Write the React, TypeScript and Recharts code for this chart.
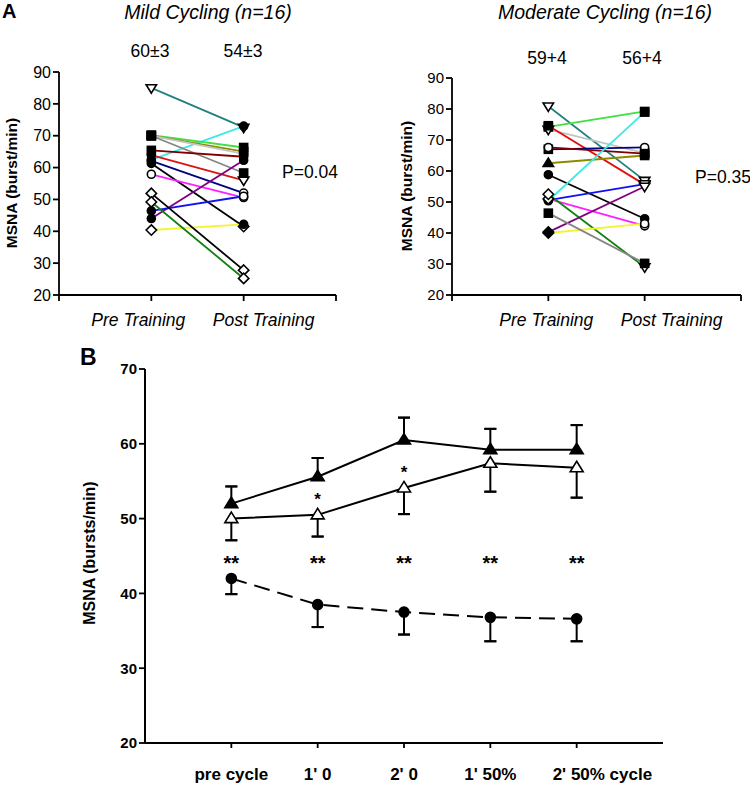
import React from 'react';
import { LineChart, Line, XAxis, YAxis, ErrorBar } from 'recharts';

const FONT = '"Liberation Sans", Arial, Helvetica, sans-serif';

// ---- Panel A: individual subjects, MSNA (burst/min) ----
const trainingLabels = ['Pre Training', 'Post Training'];
const panelATicks = [20, 30, 40, 50, 60, 70, 80, 90];

const mildColors = ['#208080', '#40e8e8', '#40e040', '#8b8b00', '#c4c4c4', '#858585', '#800000', '#e01010',
  '#000080', '#000000', '#ff20ff', '#800080', '#1010f0', '#f4f430', '#000000', '#108010'];
const mildPre = [85, 62.4, 70.2, 70, 70, 70, 65.4, 63.9, 62.1, 61.3, 57.9, 44, 46.4, 40.4, 51.9, 49.2];
const mildPost = [72.6, 73, 66.3, 65, 64.3, 58.3, 63.4, 56, 52, 41.5, 50.6, 62.3, 51, 42.2, 27.8, 25.2];
const mildPreMark = ['triDownOpen', 'circleOpen', 'square', 'square', 'square', 'square', 'square', 'circle',
  'circle', 'circle', 'circleOpen', 'circle', 'circle', 'diamondOpen', 'diamondOpen', 'diamondOpen'];
const mildPostMark = ['triDownOpen', 'circle', 'square', 'square', 'circle', 'square', 'circle', 'triDownOpen',
  'circleOpen', 'diamondOpen', 'circleOpen', 'circle', 'circleOpen', 'circle', 'diamondOpen', 'diamondOpen'];

const modColors = ['#208080', '#40e040', '#c4c4c4', '#e01010', '#000080', '#800000', '#8b8b00', '#000000',
  '#1010f0', '#40e8e8', '#ff20ff', '#108010', '#800080', '#f4f430', '#858585'];
const modPre = [80.9, 74.2, 73.4, 74.6, 67.0, 67.6, 62.5, 58.8, 50.6, 50.4, 51.0, 52.5, 40.3, 40.0, 46.4];
const modPost = [56.9, 79.2, 65.8, 55.6, 67.6, 65.6, 65.0, 44.6, 55.8, 79.0, 42.3, 29.0, 55.0, 43.0, 30.2];
const modPreMark = ['triDownOpen', 'square', 'triDownOpen', 'square', 'square', 'circleOpen', 'tri', 'circle',
  'circle', 'circle', 'diamondOpen', 'diamondOpen', 'diamond', 'diamond', 'square'];
const modPostMark = ['triDownOpen', 'square', 'square', 'triDownOpen', 'circleOpen', 'square', 'square', 'circle',
  'triDownOpen', 'square', 'circleOpen', 'triDownOpen', 'triDownOpen', 'circleOpen', 'square'];

// ---- Panel B: group means, MSNA (bursts/min) ----
const phaseLabels = ['pre cycle', "1' 0", "2' 0", "1' 50%", "2' 50% cycle"];
const panelBTicks = [20, 30, 40, 50, 60, 70];
const filledMean = [52.0, 55.6, 60.5, 59.2, 59.2];
const filledSE = [2.3, 2.5, 3.0, 2.8, 3.3];
const openMean = [50.0, 50.5, 54.1, 57.4, 56.8];
const openSE = [2.9, 2.9, 3.5, 3.8, 4.0];
const circleMean = [42.0, 38.5, 37.5, 36.8, 36.6];
const circleSE = [2.1, 3.0, 3.0, 3.2, 3.0];
const openStar = [false, true, true, false, false];
const doubleStar = [true, true, true, true, true];
const doubleStarLevel = 44.4;

function Marker({ cx, cy, kind, s }: { cx: number; cy: number; kind: string; s: number }) {
  const open = kind.endsWith('Open');
  const base = open ? kind.slice(0, -4) : kind;
  const p = { fill: open ? '#fff' : '#000', stroke: '#000', strokeWidth: 1.6 };
  const d = s * 1.3;
  if (base === 'square') return <rect x={cx - s} y={cy - s} width={s * 2} height={s * 2} {...p} />;
  if (base === 'circle') return <circle cx={cx} cy={cy} r={s} {...p} />;
  if (base === 'diamond')
    return <polygon points={`${cx},${cy - d} ${cx + d},${cy} ${cx},${cy + d} ${cx - d},${cy}`} {...p} />;
  if (base === 'tri')
    return <polygon points={`${cx},${cy - d} ${cx + d},${cy + s * 0.8} ${cx - d},${cy + s * 0.8}`} {...p} />;
  return <polygon points={`${cx},${cy + d} ${cx + d},${cy - s * 0.8} ${cx - d},${cy - s * 0.8}`} {...p} />;
}

const TrainingTick = (props: any) => {
  const { x, y, payload, shift } = props;
  const label = trainingLabels[payload.value - 1];
  if (!label) return <g />;
  return (
    <text x={x + shift[payload.value - 1]} y={y} dy={23} textAnchor="middle" fontStyle="italic"
      fontSize={17.5} fontFamily={FONT} fill="#000">{label}</text>
  );
};

const PhaseTick = (props: any) => {
  const { x, y, payload } = props;
  const label = phaseLabels[payload.value - 1];
  if (!label) return <g />;
  const last = payload.value === phaseLabels.length;
  return (
    <text x={last ? x - 24 : x} y={y} dy={30} textAnchor={last ? 'start' : 'middle'} fontWeight="bold"
      fontSize={17} fontFamily={FONT} fill="#000">{label}</text>
  );
};

const axisStroke = { stroke: '#000', strokeWidth: 1.8 };

function SubjectPanel(props: any) {
  const { pre, post, colors, preMark, postMark, width, margin, shift, tickFont } = props;
  const rows = [pre, post].map((vals: number[], k: number) => {
    const row: Record<string, number> = { x: k + 1 };
    vals.forEach((v, i) => (row[`s${i}`] = v));
    return row;
  });
  return (
    <LineChart width={width} height={340} data={rows} margin={margin}>
      <XAxis type="number" dataKey="x" domain={[0, 3]} ticks={[0, 1, 2, 3]} interval={0} tickSize={6}
        height={30} axisLine={axisStroke} tickLine={axisStroke} tick={<TrainingTick shift={shift} />} />
      <YAxis type="number" domain={[20, 90]} ticks={panelATicks} interval={0} tickSize={6} width={59}
        axisLine={axisStroke} tickLine={axisStroke}
        tick={{ fontSize: tickFont, fill: '#000', fontFamily: FONT }} />
      {pre.map((_: number, i: number) => (
        <Line key={`l${i}`} dataKey={`s${i}`} stroke={colors[i]} strokeWidth={1.8} dot={false}
          activeDot={false} isAnimationActive={false} />
      ))}
      {pre.map((_: number, i: number) => (
        <Line key={`m${i}`} dataKey={`s${i}`} stroke="none" activeDot={false} isAnimationActive={false}
          dot={(p: any) => (
            <Marker key={`m${i}-${p.index}`} cx={p.cx} cy={p.cy} s={4}
              kind={p.index === 0 ? preMark[i] : postMark[i]} />
          )} />
      ))}
    </LineChart>
  );
}

const bRows = phaseLabels.map((_, i) => ({
  x: i + 1,
  filled: filledMean[i], filledErr: [0, filledSE[i]], filledEnd: filledMean[i] + filledSE[i],
  open: openMean[i], openErr: [openSE[i], 0], openEnd: openMean[i] - openSE[i],
  circ: circleMean[i], circErr: [circleSE[i], 0], circEnd: circleMean[i] - circleSE[i],
  zero: [0, 0],
  stars: doubleStar[i] ? doubleStarLevel : null,
}));

function MeansPanel() {
  const bar = { stroke: '#000', strokeWidth: 2, direction: 'y' as const };
  const markerLine = (key: string, kind: string, star?: boolean[]) => (
    <Line key={`mk-${key}`} dataKey={key} stroke="none" activeDot={false} isAnimationActive={false}
      dot={(p: any) => (
        <g key={`${key}-${p.index}`}>
          <Marker cx={p.cx} cy={p.cy} kind={kind} s={5} />
          {star && star[p.index] ? (
            <text x={p.cx} y={p.cy - 10} textAnchor="middle" fontSize={17} fontWeight="bold"
              fontFamily={FONT} fill="#000">*</text>
          ) : null}
        </g>
      )} />
  );
  return (
    <LineChart width={700} height={455} data={bRows} margin={{ top: 39, right: 37, bottom: 0, left: 0 }}>
      <XAxis type="number" dataKey="x" domain={[0, 6]} ticks={[1, 2, 3, 4, 5]} interval={0} tickSize={5}
        height={42} axisLine={{ stroke: '#000', strokeWidth: 2 }} tickLine={axisStroke} tick={<PhaseTick />} />
      <YAxis type="number" domain={[20, 70]} ticks={panelBTicks} interval={0} tickSize={6} width={145}
        axisLine={{ stroke: '#000', strokeWidth: 2 }} tickLine={axisStroke}
        tick={{ fontSize: 15, fontWeight: 'bold', fill: '#000', fontFamily: FONT }} />
      <Line dataKey="filled" stroke="#000" strokeWidth={2} dot={false} activeDot={false} isAnimationActive={false}>
        <ErrorBar dataKey="filledErr" width={0} {...bar} />
      </Line>
      <Line dataKey="filledEnd" stroke="none" dot={false} activeDot={false} isAnimationActive={false}>
        <ErrorBar dataKey="zero" width={6} {...bar} />
      </Line>
      <Line dataKey="open" stroke="#000" strokeWidth={2} dot={false} activeDot={false} isAnimationActive={false}>
        <ErrorBar dataKey="openErr" width={0} {...bar} />
      </Line>
      <Line dataKey="openEnd" stroke="none" dot={false} activeDot={false} isAnimationActive={false}>
        <ErrorBar dataKey="zero" width={6} {...bar} />
      </Line>
      <Line dataKey="circ" stroke="#000" strokeWidth={2} strokeDasharray="16 8" dot={false} activeDot={false}
        isAnimationActive={false}>
        <ErrorBar dataKey="circErr" width={0} {...bar} />
      </Line>
      <Line dataKey="circEnd" stroke="none" dot={false} activeDot={false} isAnimationActive={false}>
        <ErrorBar dataKey="zero" width={6} {...bar} />
      </Line>
      {markerLine('filled', 'tri')}
      {markerLine('open', 'triOpen', openStar)}
      {markerLine('circ', 'circle')}
      <Line dataKey="stars" stroke="none" activeDot={false} isAnimationActive={false}
        dot={(p: any) =>
          p.cy == null ? <g key={`st${p.index}`} /> : (
            <text key={`st${p.index}`} x={p.cx} y={p.cy} dy={10} textAnchor="middle" fontSize={20}
              fontWeight="bold" fontFamily={FONT} fill="#000">**</text>
          )} />
    </LineChart>
  );
}

export default function App() {
  const t = { fontFamily: FONT, fill: '#000' };
  return (
    <div style={{ position: 'absolute', left: 0, top: 0, width: 750, height: 785, background: '#fff' }}>
      <div style={{ position: 'absolute', left: 0, top: 0 }}>
        <SubjectPanel pre={mildPre} post={mildPost} colors={mildColors} preMark={mildPreMark}
          postMark={mildPostMark} width={360} margin={{ top: 72, right: 24, bottom: 15, left: 0 }}
          shift={[-13, 20]} tickFont={16} />
      </div>
      <div style={{ position: 'absolute', left: 393, top: 0 }}>
        <SubjectPanel pre={modPre} post={modPost} colors={modColors} preMark={modPreMark}
          postMark={modPostMark} width={357} margin={{ top: 78, right: 9, bottom: 15, left: 0 }}
          shift={[-2, 27]} tickFont={15} />
      </div>
      <div style={{ position: 'absolute', left: 0, top: 330 }}>
        <MeansPanel />
      </div>
      <svg width={750} height={785} style={{ position: 'absolute', left: 0, top: 0, pointerEvents: 'none' }}>
        <text x={2} y={18} fontSize={20} fontWeight="bold" {...t}>A</text>
        <text x={208} y={19} fontSize={19.5} fontStyle="italic" textAnchor="middle" {...t}>Mild Cycling (n=16)</text>
        <text x={605} y={19} fontSize={19.5} fontStyle="italic" textAnchor="middle" {...t}>Moderate Cycling (n=16)</text>
        <text x={150} y={57} fontSize={17.5} textAnchor="middle" {...t}>60±3</text>
        <text x={243} y={57} fontSize={17.5} textAnchor="middle" {...t}>54±3</text>
        <text x={547} y={64} fontSize={17.5} textAnchor="middle" {...t}>59+4</text>
        <text x={642} y={64} fontSize={17.5} textAnchor="middle" {...t}>56+4</text>
        <text x={282} y={178} fontSize={17.5} {...t}>P=0.04</text>
        <text x={695} y={183} fontSize={17.5} {...t}>P=0.35</text>
        <text transform="translate(17,183) rotate(-90)" fontSize={15.5} fontWeight="bold" textAnchor="middle" {...t}>MSNA (burst/min)</text>
        <text transform="translate(412,186) rotate(-90)" fontSize={15.5} fontWeight="bold" textAnchor="middle" {...t}>MSNA (burst/min)</text>
        <text x={80} y={365} fontSize={23} fontWeight="bold" {...t}>B</text>
        <text transform="translate(95,553) rotate(-90)" fontSize={16} fontWeight="bold" textAnchor="middle" {...t}>MSNA (bursts/min)</text>
      </svg>
    </div>
  );
}
